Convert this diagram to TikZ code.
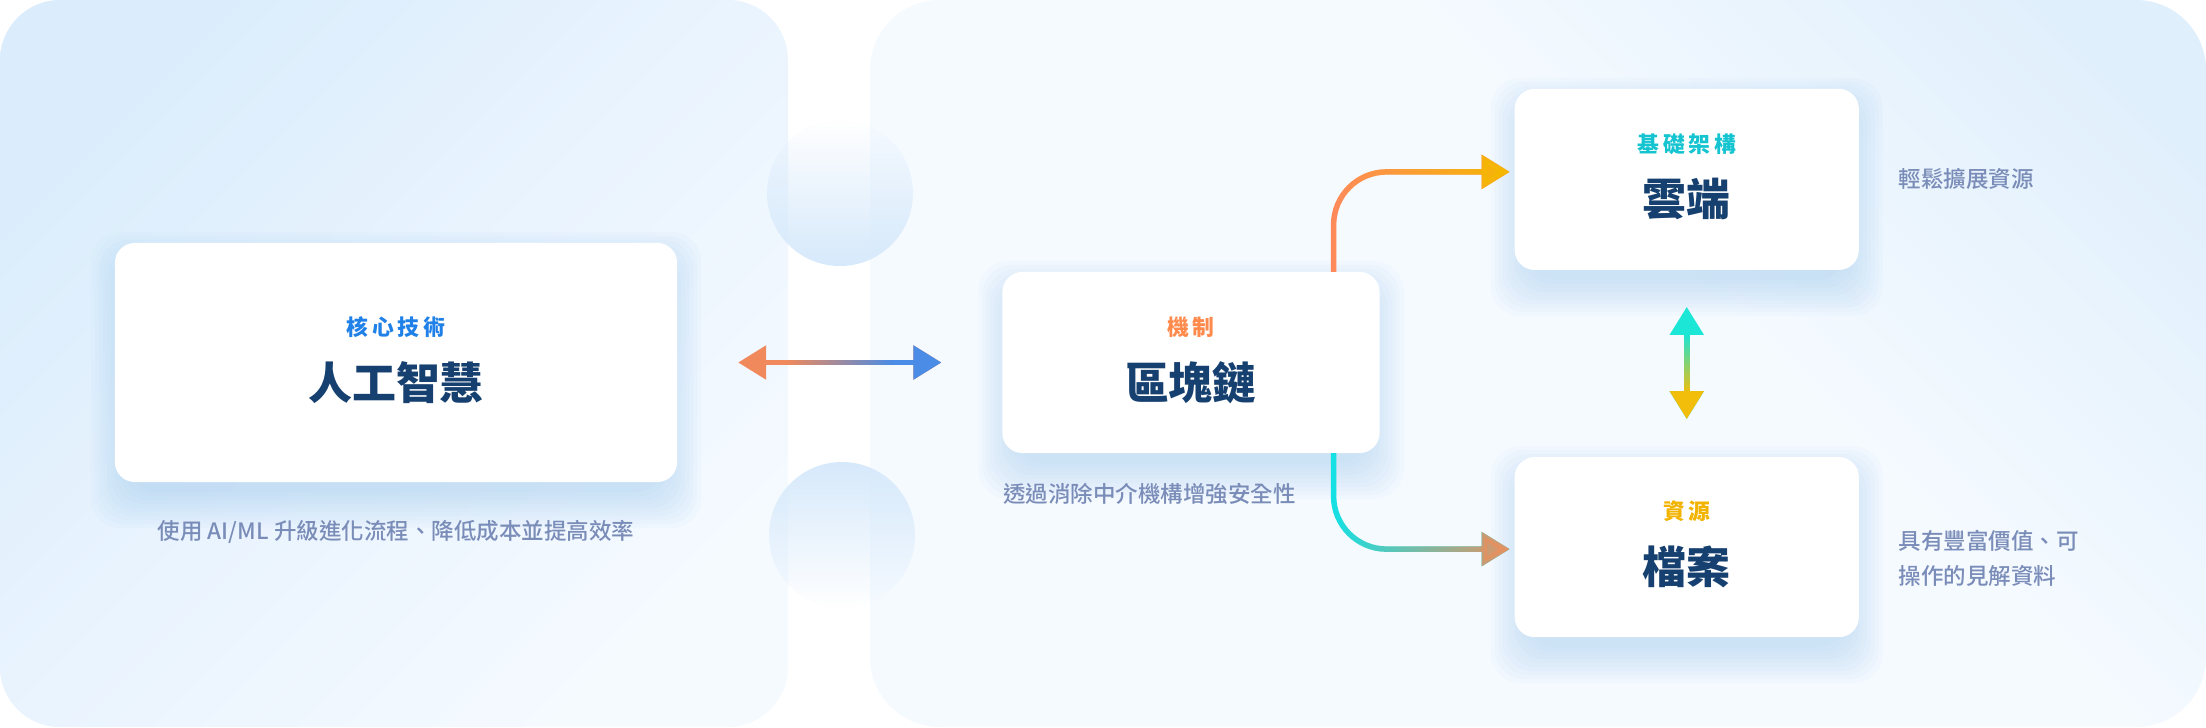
\documentclass[tikz,border=0pt]{standalone}
\usepackage{fontspec}
\setmainfont{Noto Sans CJK TC}
\newfontfamily\notefont{Noto Sans CJK TC Medium}
\usetikzlibrary{arrows.meta, positioning, calc, fadings, backgrounds}

\definecolor{navy}{HTML}{16406F}
\definecolor{notegrey}{HTML}{7A8CB8}
\definecolor{aiblue}{HTML}{1F80E8}
\definecolor{chainorange}{HTML}{FF8A4C}
\definecolor{cloudcyan}{HTML}{14C4D0}
\definecolor{filegold}{HTML}{F2B400}
\definecolor{shadowblue}{HTML}{9ECBEE}
\definecolor{blobblue}{HTML}{D6E9FB}
\definecolor{leftpanetop}{HTML}{DBEDFC}
\definecolor{leftpanemid}{HTML}{EAF4FE}
\definecolor{rightpanetop}{HTML}{E0EFFC}
\definecolor{panelight}{HTML}{F5FAFF}
\definecolor{swapA}{HTML}{F0895C}
\definecolor{swapB}{HTML}{4A8CE6}
\definecolor{upA}{HTML}{FF8A5C}
\definecolor{upB}{HTML}{F5B800}
\definecolor{downA}{HTML}{12E2E6}
\definecolor{downB}{HTML}{E8905F}
\definecolor{vertA}{HTML}{1CE6D6}
\definecolor{vertB}{HTML}{F2BE0A}

\pgfdeclareverticalshading{leftpane}{100bp}{color(0bp)=(panelight); color(25bp)=(panelight); color(50bp)=(leftpanemid); color(75bp)=(leftpanetop); color(100bp)=(leftpanetop)}
\pgfdeclareverticalshading{rightpane}{100bp}{color(0bp)=(panelight); color(58bp)=(panelight); color(80bp)=(rightpanetop); color(100bp)=(rightpanetop)}

\tikzfading[name=fadeLtoR, left color=transparent!100, right color=transparent!0]
\tikzfading[name=fadeTtoB, top color=transparent!100, bottom color=transparent!0]
\tikzfading[name=blobUp, top color=transparent!100, middle color=transparent!95, bottom color=transparent!0]
\tikzfading[name=blobDown, top color=transparent!0, middle color=transparent!95, bottom color=transparent!100]

\tikzstyle{card} = [rectangle, rounded corners=0.2cm, fill=white, outer sep=0pt]
\tikzstyle{flow} = [line width=0.055cm, rounded corners=0.53cm, >={Triangle[length=0.28cm, width=0.33cm]}]

\newcommand{\cardglow}[1]{%
  \foreach \k in {0,...,9}
    \fill[shadowblue, opacity=0.055, rounded corners=0.3cm] ($(#1.north west)+(12-4*\k,25-4*\k)$) rectangle ($(#1.south east)+(-12+4*\k,10+4*\k)$);
}

\begin{document}
\begin{tikzpicture}[x=0.01cm, y=-0.01cm]
    \tikzstyle{kicker} = [inner sep=0pt, font=\fontsize{6.2}{7}\selectfont\bfseries]
    \tikzstyle{headline} = [inner sep=0pt, text=navy, font=\fontsize{12.5}{15}\selectfont\bfseries]
    \tikzstyle{remark} = [inner sep=0pt, text=notegrey, align=left, font=\fontsize{6.4}{9.96}\selectfont\notefont]

    \useasboundingbox (0,0) rectangle (2206,727);

    \node (ai) [card, minimum width=5.62cm, minimum height=2.39cm] at (396,362.5) {};
    \node (chain) [card, minimum width=3.77cm, minimum height=1.81cm, right=3.25cm of ai] {};
    \node (cloud) [card, minimum width=3.44cm, minimum height=1.81cm, above right=0.02cm and 1.35cm of chain] {};
    \node (files) [card, minimum width=3.44cm, minimum height=1.80cm, below right=0.04cm and 1.35cm of chain] {};

    \begin{scope}[on background layer]
        \fill[white] (0,0) rectangle (2206,727);
        \shade[rounded corners=0.6cm, shading=leftpane, shading angle=45] (0,0) rectangle (788,727);
        \shade[rounded corners=0.7cm, shading=rightpane, shading angle=-45] (870,0) rectangle (2206,727);
        \cardglow{ai}
        \cardglow{chain}
        \cardglow{cloud}
        \cardglow{files}
    \end{scope}
    \fill[blobblue, path fading=blobUp] (840,193) circle (73);
    \fill[blobblue, path fading=blobDown] (842,535) circle (73);

    \node (aiTag) [kicker, text=aiblue] at ([yshift=0.355cm]ai.center) {核\,心\,技\,術};
    \node (aiName) [headline] at ([yshift=-0.2cm]ai.center) {人工智慧};
    \node (chainTag) [kicker, text=chainorange] at ([yshift=0.355cm]chain.center) {機\,制};
    \node (chainName) [headline] at ([yshift=-0.2cm]chain.center) {區塊鏈};
    \node (cloudTag) [kicker, text=cloudcyan] at ([yshift=0.355cm]cloud.center) {基\,礎\,架\,構};
    \node (cloudName) [headline] at ([yshift=-0.2cm]cloud.center) {雲端};
    \node (filesTag) [kicker, text=filegold] at ([yshift=0.355cm]files.center) {資\,源};
    \node (filesName) [headline] at ([yshift=-0.2cm]files.center) {檔案};

    \node (aiNote) [remark] at ([yshift=-0.5cm]ai.south) {使用 AI/ML 升級進化流程、降低成本並提高效率};
    \node (chainNote) [remark, anchor=west] at ([yshift=-0.41cm]chain.south west) {透過消除中介機構增強安全性};
    \node (cloudNote) [remark, anchor=west] at ([xshift=0.39cm]cloud.east) {輕鬆擴展資源};
    \node (filesNote) [remark, anchor=west] at ([xshift=0.39cm, yshift=-0.11cm]files.east) {具有豐富價值、可\\操作的見解資料};

    \coordinate (swapMid) at ($(ai.east)!0.5!(chain.west)$);
    \coordinate (vertMid) at ($(cloud.south)!0.5!(files.north)$);

    \draw [flow, <->, draw=swapA] ($(ai.east)+(61,0)$) -- ($(chain.west)+(-61,0)$);
    \draw [flow, <->, draw=swapB, path fading=fadeLtoR, fit fading=false, fading transform={shift={(swapMid)}, xscale=0.6}] ($(ai.east)+(61,0)$) -- ($(chain.west)+(-61,0)$);
    \draw [flow, ->, draw=upA] ($(chain.north east)+(-46,0)$) |- ($(cloud.west)+(-5,-7.5)$);
    \draw [flow, ->, draw=upB, path fading=fadeLtoR] ($(chain.north east)+(-46,0)$) |- ($(cloud.west)+(-5,-7.5)$);
    \draw [flow, ->, draw=downA] ($(chain.south east)+(-46,0)$) |- ($(files.west)+(-5,2)$);
    \draw [flow, ->, draw=downB, path fading=fadeLtoR] ($(chain.south east)+(-46,0)$) |- ($(files.west)+(-5,2)$);
    \draw [flow, <->, draw=vertA] ($(cloud.south)+(0,37)$) -- ($(files.north)+(0,-38)$);
    \draw [flow, <->, draw=vertB, path fading=fadeTtoB, fit fading=false, fading transform={shift={(vertMid)}, yscale=0.33}] ($(cloud.south)+(0,37)$) -- ($(files.north)+(0,-38)$);
\end{tikzpicture}
\end{document}
